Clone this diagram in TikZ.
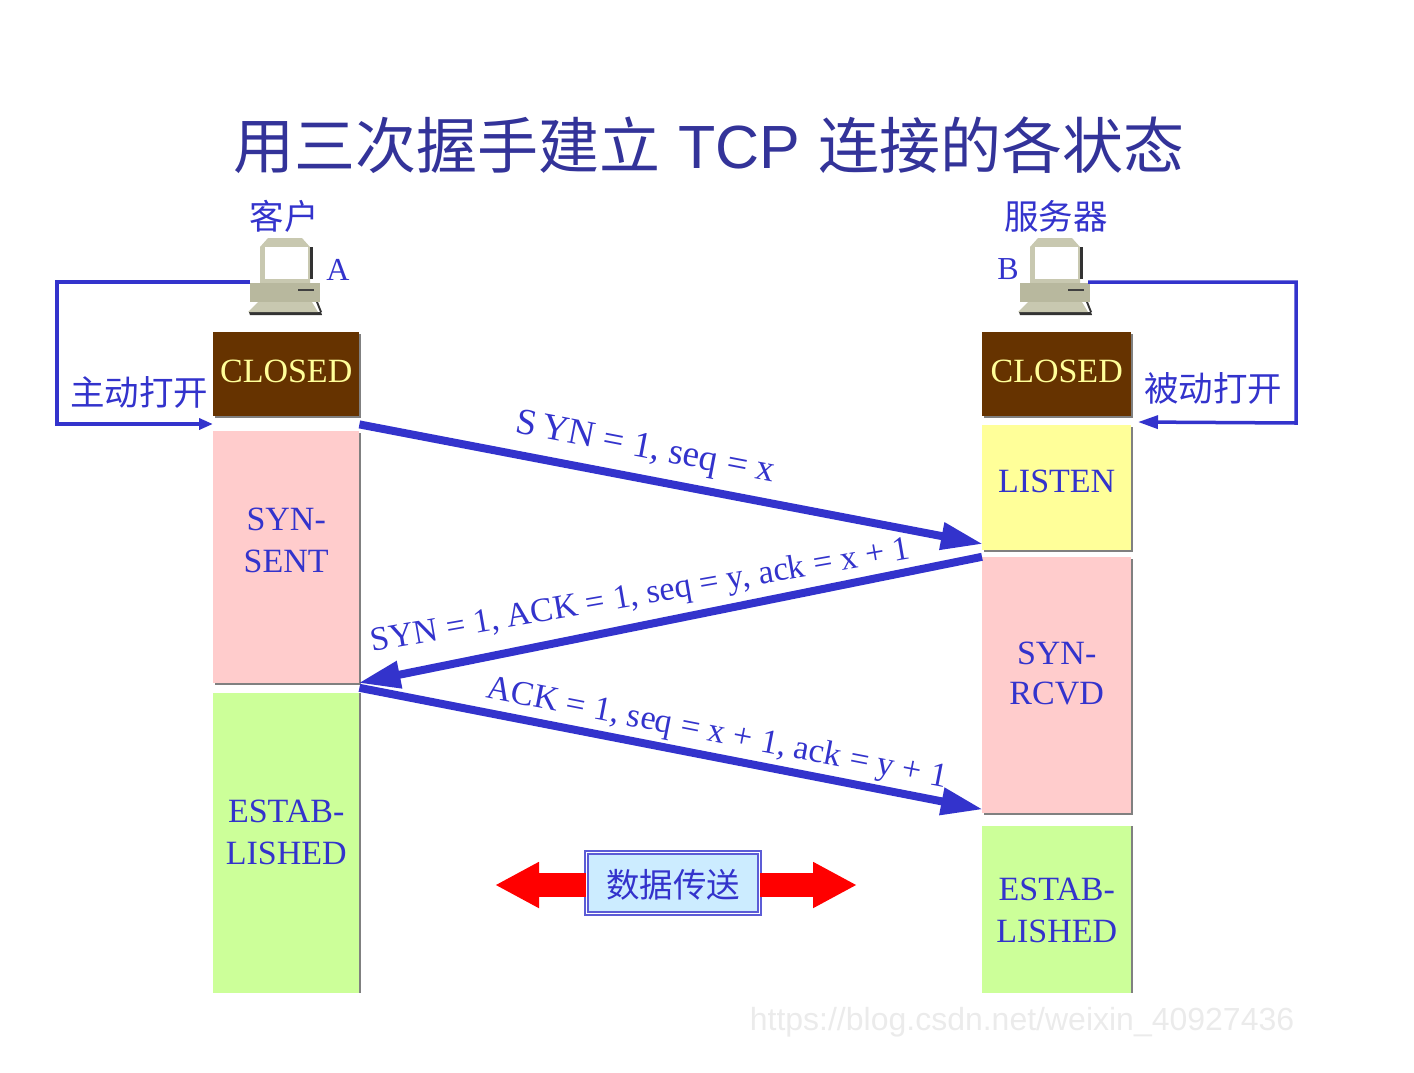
\documentclass[tikz,border=0pt]{standalone}
\usepackage{fontspec}
\usepackage{xcolor}
\usepackage{tikz}
\usetikzlibrary{arrows.meta,positioning,calc,shadows}
\setmainfont{Liberation Serif}
\setsansfont{Liberation Sans}
\newfontfamily\cjk{Noto Sans CJK SC}
\definecolor{tcpblue}{RGB}{51,51,204}
\definecolor{titleblue}{RGB}{51,51,153}
\definecolor{closedbrown}{RGB}{102,51,0}
\definecolor{closedtext}{RGB}{255,255,153}
\definecolor{synpink}{RGB}{255,204,204}
\definecolor{listenyellow}{RGB}{255,255,153}
\definecolor{estabgreen}{RGB}{204,255,153}
\definecolor{databox}{RGB}{204,236,255}
\definecolor{pcbody}{RGB}{184,184,158}
\definecolor{pcframe}{RGB}{200,200,176}
\newcommand{\fs}[1]{\fontsize{#1}{#1}\selectfont}
\newcommand{\computer}[2]{%
  \begin{scope}[shift={(#1,#2)}]
    \fill[pcframe] (0,9) -- (0,48) -- (50,48) -- (50,9) -- (42,0) -- (8,0) -- cycle;
    \fill[white] (5,9) rectangle (48,41);
    \fill[black!80] (50,9) rectangle (53,41);
    \fill[pcbody] (-10,45) rectangle (60,64);
    \fill[black!75] (38,51) rectangle (54,53);
    \fill[black!80] (-11,74) -- (61,74) -- (62,77) -- (-10,77) -- cycle;
    \fill[pcframe] (-2,64) -- (52,64) -- (58,74) -- (-12,74) -- cycle;
    \fill[black!80] (56,64) -- (58,64) -- (62,74) -- (60,74) -- cycle;
  \end{scope}}
\begin{document}
\begin{tikzpicture}[x=1pt,y=-1pt,>=Latex,node distance=8pt,
  state/.style={minimum width=146pt,inner sep=0pt,align=center,text=tcpblue,
                font=\fs{34}},
  fullshadow/.style={drop shadow={shadow xshift=2pt,shadow yshift=-2pt,
                fill=black!50,opacity=1}},
  sideshadow/.style={drop shadow={shadow xshift=2pt,shadow yshift=0pt,
                fill=black!50,opacity=1}},
  closed/.style={state,fullshadow,fill=closedbrown,text=closedtext,minimum height=84pt,text depth=6pt},
  sent/.style={state,fullshadow,fill=synpink},
  listen/.style={state,fullshadow,fill=listenyellow},
  estab/.style={state,sideshadow,fill=estabgreen},
  msg/.style={->,draw=tcpblue,line width=8pt,
              -{Triangle[length=42pt,width=26pt]},shorten >=-1pt},
  msglabel/.style={sloped,text=tcpblue,inner sep=0pt},
  loopline/.style={draw=tcpblue,line width=3.5pt},
  cn/.style={text=tcpblue,font=\fs{34.5}\cjk,inner sep=0pt},
  dataarrow/.style={draw=red,line width=24pt,-{Triangle[length=44pt,width=43pt]}}]
\useasboundingbox (0,0) rectangle (1414,1072);
\node[text=titleblue,inner sep=0pt,font=\fs{61}] (title) at (709,145)
  {{\cjk 用三次握手建立}\hspace{18pt}{\sffamily TCP}\hspace{18pt}{\cjk 连接的各状态}};

% client column
\node[closed,anchor=north west] (closedA) at (213,332) {CLOSED};
\node[sent,minimum height=252pt,below=14pt of closedA,text depth=32pt] (sent) {SYN-\\[8pt]SENT};
\node[estab,minimum height=300pt,below=10pt of sent,text depth=22pt] (estabA) {ESTAB-\\[8pt]LISHED};
% server column
\node[closed,minimum width=149pt,anchor=north west] (closedB) at (982,332) {CLOSED};
\node[listen,minimum width=149pt,minimum height=125pt,below=8pt of closedB,text depth=12pt] (listen) {LISTEN};
\node[sent,minimum width=149pt,minimum height=256pt,below=7pt of listen,text depth=24pt] (rcvd) {SYN-\\[6pt]RCVD};
\node[estab,minimum width=149pt,minimum height=167pt,below=13pt of rcvd] (estabB) {ESTAB-\\[8pt]LISHED};

\computer{260}{238}
\computer{1030}{238}
\coordinate (pcA) at (250,282);
\coordinate (pcB) at (1088,282);
\coordinate (openA) at (213,424);
\coordinate (openB) at (1138,422);
\node[cn] (client) at (284,216) {客户};
\node[cn] (server) at (1056,216) {服务器};
\node[text=tcpblue,font=\fs{32},inner sep=0pt] (nameA) at (338,270) {A};
\node[text=tcpblue,font=\fs{32},inner sep=0pt] (nameB) at (1008,269) {B};
\node[cn] (active) at (139,392) {主动打开};
\node[cn] (passive) at (1213,388) {被动打开};

\draw[loopline,-{Triangle[length=14pt,width=11pt]}] (pcA) -- (57,282) -- (57,424) -- (openA);
\draw[loopline,-{Triangle[length=20pt,width=13pt]}] (pcB) -- (1296,282) -- (1296,423) -- (openB);

\draw[msg] ([yshift=-8pt]closedA.south east) -- ([yshift=6pt]listen.south west)
  node[msglabel,pos=.45,above=9pt,font=\fs{37}] (syn) {S\,YN = 1, seq = x};
\draw[msg] (rcvd.north west) -- (sent.south east)
  node[msglabel,pos=.54,above=9pt,rotate=-1.6,font=\fs{34}] (synack) {SYN = 1, ACK = 1, seq = y, ack = x + 1};
\draw[msg] ([yshift=-5pt]sent.south east) -- ([yshift=4pt]rcvd.south west)
  node[msglabel,pos=.567,above=3pt,font=\fs{34.3}] (ack) {ACK = 1, seq = x + 1, ack = y + 1};

\node[draw=tcpblue!80,double=white,line width=1.5pt,double distance=1.5pt,fill=databox,
      minimum width=173pt,minimum height=61pt,inner sep=0pt,text=tcpblue,
      text height=28pt,text depth=0pt,font=\fs{33.5}\cjk] (data) at (673,883) {数据传送};
\coordinate (dataL) at (495,885);
\coordinate (dataR) at (857,885);
\draw[dataarrow] (data.west |- dataL) -- (dataL);
\draw[dataarrow] (data.east |- dataR) -- (dataR);

\node[text=black!8,font=\fs{32}\sffamily,inner sep=0pt] (mark) at (1022,1022)
  {https://blog.csdn.net/weixin\_40927436};
\end{tikzpicture}
\end{document}
